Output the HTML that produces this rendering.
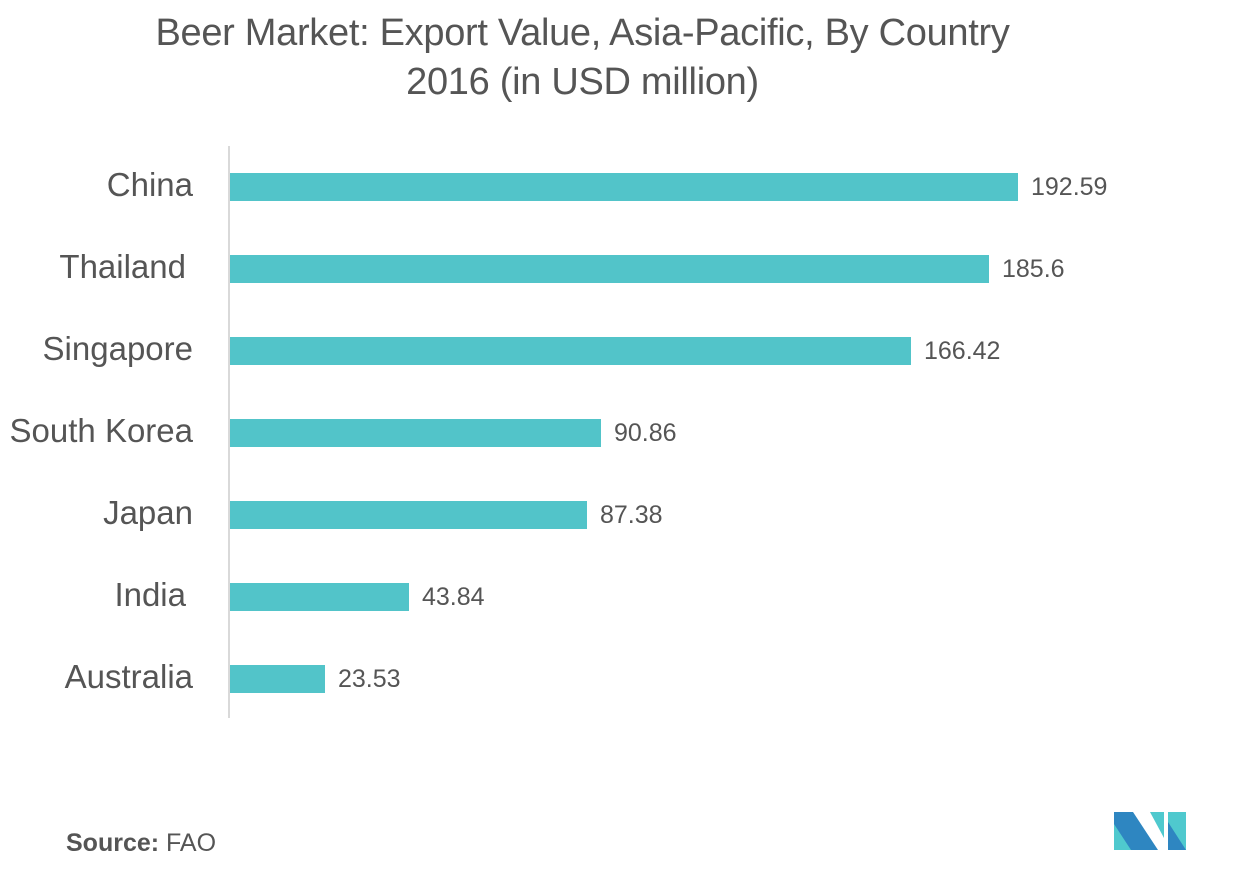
<!DOCTYPE html>
<html><head><meta charset="utf-8"><style>
body{margin:0;background:#fff;width:1253px;height:881px;position:relative;font-family:"Liberation Sans",sans-serif;overflow:hidden}
.t{position:absolute;left:0;width:1165px;text-align:center;color:#555;font-size:38px;letter-spacing:-0.3px}
.l{position:absolute;right:1060px;font-size:33px;color:#555;text-align:right;white-space:nowrap}
.b{position:absolute;left:230px;height:28px;background:#52c4c9}
.v{position:absolute;font-size:25px;color:#555}
</style></head><body>
<div class="t" style="top:12px">Beer Market: Export Value, Asia-Pacific, By Country</div>
<div class="t" style="top:61px">2016 (in USD million)</div>
<div style="position:absolute;left:228px;top:146px;width:2px;height:572px;background:#d9d9d9"></div>
<div class="l" style="top:166px">China</div><div class="b" style="top:173px;width:788px"></div><div class="v" style="left:1031px;top:173px">192.59</div>
<div class="l" style="top:248px;right:1067px">Thailand</div><div class="b" style="top:255px;width:759px"></div><div class="v" style="left:1002px;top:255px">185.6</div>
<div class="l" style="top:330px">Singapore</div><div class="b" style="top:337px;width:681px"></div><div class="v" style="left:924px;top:337px">166.42</div>
<div class="l" style="top:412px">South Korea</div><div class="b" style="top:419px;width:371px"></div><div class="v" style="left:614px;top:419px">90.86</div>
<div class="l" style="top:494px">Japan</div><div class="b" style="top:501px;width:357px"></div><div class="v" style="left:600px;top:501px">87.38</div>
<div class="l" style="top:576px;right:1067px">India</div><div class="b" style="top:583px;width:179px"></div><div class="v" style="left:422px;top:583px">43.84</div>
<div class="l" style="top:658px">Australia</div><div class="b" style="top:665px;width:95px"></div><div class="v" style="left:338px;top:665px">23.53</div>
<div style="position:absolute;left:66px;top:829px;font-size:25px;color:#555"><b>Source:</b> FAO</div>
<svg style="position:absolute;left:1114px;top:812px" width="74" height="38">
<polygon points="0,0 19,0 44,38 0,38" fill="#2e86c1"/>
<polygon points="0,12 17,38 0,38" fill="#4fc9ce"/>
<polygon points="36,0 50,0 50,26" fill="#4fc9ce"/>
<polygon points="54,0 72,0 72,38 54,38" fill="#4fc9ce"/>
<polygon points="54,10 72,38 54,38" fill="#2e86c1"/>
</svg>
</body></html>
